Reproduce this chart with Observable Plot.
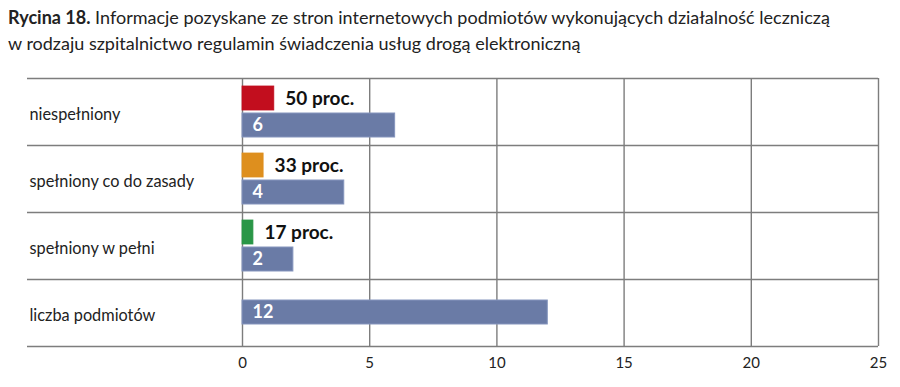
<!DOCTYPE html>
<html>
<head>
<meta charset="utf-8">
<script src="https://cdn.jsdelivr.net/npm/d3@7"></script>
<script src="https://cdn.jsdelivr.net/npm/@observablehq/plot@0.6"></script>
<style>
  html, body { margin: 0; padding: 0; background: #fff; }
  body { width: 900px; height: 387px; overflow: hidden; font-family: Lato, "Open Sans", sans-serif; color: #222; }
  #title { height: 60px; box-sizing: border-box; padding: 4px 0 0 8px; font-size: 18px; line-height: 26px; }
  #title b { font-weight: 700; }
</style>
</head>
<body>
<div id="title"><b>Rycina 18.</b> Informacje pozyskane ze stron internetowych podmiotów wykonujących działalność leczniczą<br>w rodzaju szpitalnictwo regulamin świadczenia usług drogą elektroniczną</div>
<div id="chart"></div>
<script>
const categories = ["niespełniony", "spełniony co do zasady", "spełniony w pełni", "liczba podmiotów"];
const counts = [6, 4, 2, 12];
const pctCategories = ["niespełniony", "spełniony co do zasady", "spełniony w pełni"];
const pctBarValues = [1.25, 0.83, 0.43];
const pctLabels = ["50 proc.", "33 proc.", "17 proc."];
const pctColors = ["#c20e1e", "#de8f1e", "#2a9647"];
const xTicks = [0, 5, 10, 15, 20, 25];

const W = 900, H = 327, mt = 18, mb = 41, ml = 242, mr = 22;
const band = (H - mt - mb) / categories.length;

const pctRows = pctCategories.map((c, i) => ({cat: c, v: pctBarValues[i], label: pctLabels[i], color: pctColors[i]}));
const countRows = categories.map((c, i) => ({cat: c, v: counts[i], paired: i < pctCategories.length}));
const pairedCounts = countRows.filter(d => d.paired);
const soloCounts = countRows.filter(d => !d.paired);

const blue = "#6a7ba6";
const grid = "#7d7d7d";

const chart = Plot.plot({
  width: W, height: H,
  marginTop: mt, marginBottom: mb, marginLeft: ml, marginRight: mr,
  style: {fontFamily: "Lato, 'Open Sans', sans-serif", color: "#222", background: "#fff"},
  x: {domain: [0, 25], ticks: xTicks, label: null},
  y: {domain: categories, padding: 0, label: null},
  marks: [
    Plot.ruleX(xTicks, {stroke: grid, strokeWidth: 1.4}),
    Plot.ruleY(categories, {y: d => d, dy: -band / 2, insetLeft: -215, stroke: grid, strokeWidth: 1.4}),
    Plot.ruleY(categories.slice(-1), {y: d => d, dy: band / 2, insetLeft: -215, stroke: grid, strokeWidth: 1.4}),
    Plot.barX(pctRows, {x: "v", y: "cat", fill: d => d.color, stroke: d => d.color, strokeWidth: 0.8, insetTop: 8, insetBottom: band - 32}),
    Plot.barX(pairedCounts, {x: "v", y: "cat", fill: blue, stroke: "#8595bd", strokeWidth: 1, insetTop: band - 32, insetBottom: 8}),
    Plot.barX(soloCounts, {x: "v", y: "cat", fill: blue, stroke: "#8595bd", strokeWidth: 1, insetTop: 21, insetBottom: band - 45}),
    Plot.text(pctRows, {x: "v", y: "cat", text: "label", textAnchor: "start", dx: 11, dy: 20 - band / 2, fontSize: 19, fontWeight: "bold", fill: "#111"}),
    Plot.text(pairedCounts, {x: 0, y: "cat", text: d => String(d.v), textAnchor: "start", dx: 10, dy: 47 - band / 2, fontSize: 18, fontWeight: "bold", fill: "#fff"}),
    Plot.text(soloCounts, {x: 0, y: "cat", text: d => String(d.v), textAnchor: "start", dx: 10, dy: 33 - band / 2, fontSize: 18, fontWeight: "bold", fill: "#fff"}),
    Plot.axisX(xTicks, {tickSize: 0, tickPadding: 11, fontSize: 15, fill: "#222", label: null}),
    Plot.axisY({tickSize: 0, textAnchor: "start", dx: -204, dy: 3, fontSize: 16.3, fill: "#222", label: null})
  ]
});
document.getElementById("chart").appendChild(chart);
</script>
</body>
</html>
